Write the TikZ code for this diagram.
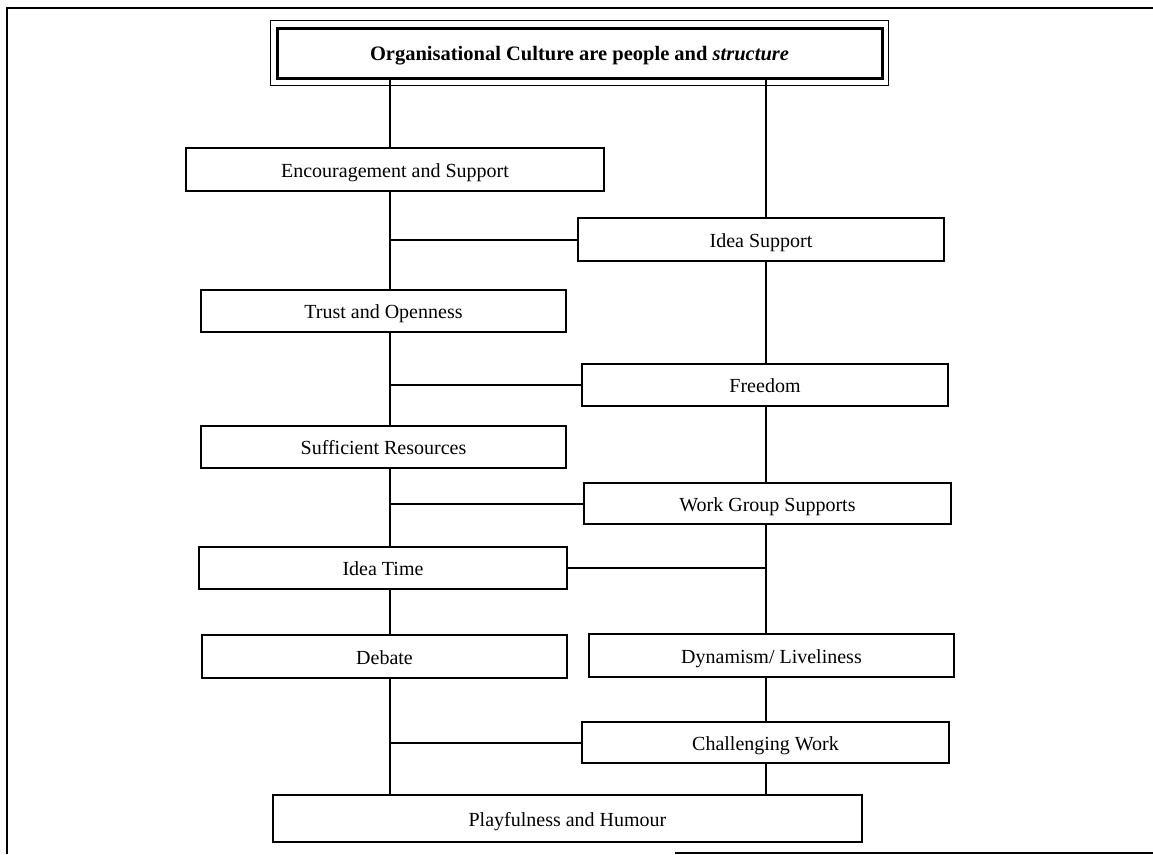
\documentclass[tikz,border=0pt]{standalone}
\usepackage{fontspec}
\setmainfont{Liberation Serif}
\begin{document}
\begin{tikzpicture}[x=1pt,y=-1pt,
  box/.style={draw, rectangle, line width=2pt, inner sep=0pt,
    text height=15pt, text depth=0pt,
    font=\fontsize{20}{24}\selectfont},
  link/.style={line width=2pt},
  thinlink/.style={line width=1.2pt}]
\useasboundingbox (0,0) rectangle (1153,854);

% page frame
\draw[line width=2.5pt] (7,854) -- (7,8) -- (1153,8);
\draw[line width=1.5pt] (675,853) -- (1153,853);

% trunk positions
\coordinate (L) at (390,0);
\coordinate (R) at (766,0);

% title box with double outline
\node[box, line width=3pt, minimum width=605pt, minimum height=50pt,
  text height=14pt,
  font=\fontsize{20.5}{24}\selectfont\bfseries] (ttl) at (579.5,53)
  {Organisational Culture are people and \textit{structure}};
\draw[line width=1.2pt] ([xshift=-5pt,yshift=6pt]ttl.north west)
  rectangle ([xshift=5pt,yshift=-6pt]ttl.south east);

% left column
\node[box, minimum width=418pt, minimum height=43pt] (enc)   at (395,169.5) {Encouragement and Support};
\node[box, minimum width=365pt, minimum height=42pt] (trust) at (383.5,311) {Trust and Openness};
\node[box, minimum width=365pt, minimum height=42pt] (suff)  at (383.5,447) {Sufficient Resources};
\node[box, minimum width=368pt, minimum height=42pt] (itime) at (383,568)   {Idea Time};
\node[box, minimum width=365pt, minimum height=43pt] (deb)   at (384.5,656.5) {Debate};

% right column
\node[box, minimum width=366pt, minimum height=43pt] (idea)  at (761,239.5) {Idea Support};
\node[box, minimum width=366pt, minimum height=42pt] (free)  at (765,385)   {Freedom};
\node[box, minimum width=367pt, minimum height=41pt] (wgs)   at (767.5,503.5) {Work Group Supports};
\node[box, minimum width=365pt, minimum height=43pt] (dyn)   at (771.5,655.5) {Dynamism/ Liveliness};
\node[box, minimum width=367pt, minimum height=41pt] (chal)  at (765.5,742.5) {Challenging Work};

% bottom box
\node[box, minimum width=589pt, minimum height=47pt] (play)  at (567.5,818.5) {Playfulness and Humour};

% left trunk
\draw[link] (ttl.south -| L) -- (enc.north -| L);
\draw[link] (enc.south -| L) -- (trust.north -| L);
\draw[link] (trust.south -| L) -- (suff.north -| L);
\draw[link] (suff.south -| L) -- (itime.north -| L);
\draw[link] (itime.south -| L) -- (deb.north -| L);
\draw[thinlink] (deb.south -| L) -- (play.north -| L);

% right trunk
\draw[link] (ttl.south -| R) -- (idea.north -| R);
\draw[link] (idea.south -| R) -- (free.north -| R);
\draw[thinlink] (free.south -| R) -- (wgs.north -| R);
\draw[link] (wgs.south -| R) -- (dyn.north -| R);
\draw[link] (dyn.south -| R) -- (chal.north -| R);
\draw[link] (chal.south -| R) -- (play.north -| R);

% cross links
\draw[link] (idea.west -| L) -- (idea.west);
\draw[link] (free.west -| L) -- (free.west);
\draw[link] (wgs.west -| L) -- (wgs.west);
\draw[link] (itime.east) -- (itime.east -| R);
\draw[link] (chal.west -| L) -- (chal.west);
\end{tikzpicture}
\end{document}
